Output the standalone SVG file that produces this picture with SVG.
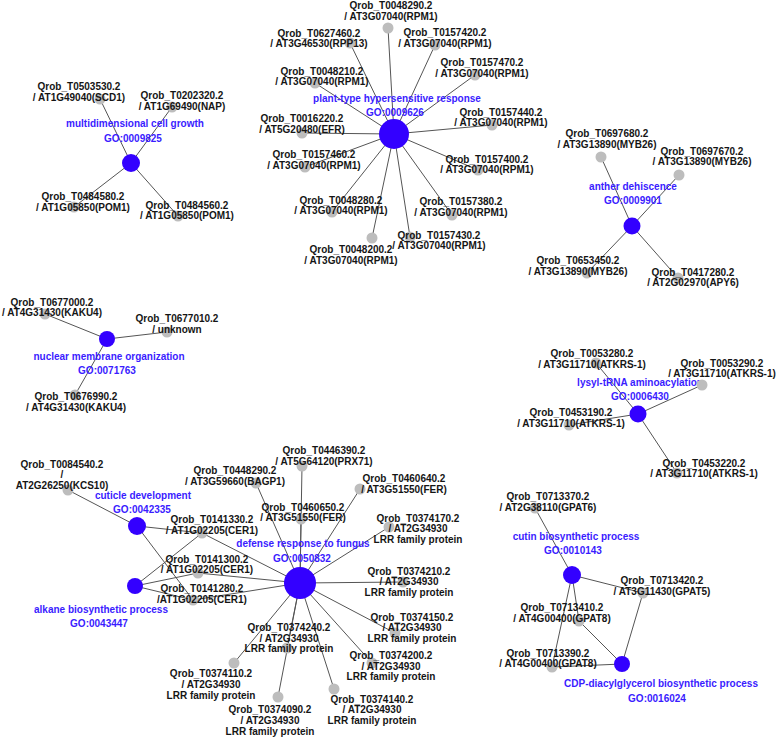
<svg xmlns="http://www.w3.org/2000/svg" width="780" height="738" viewBox="0 0 780 738">
<style>
.e{stroke:#555;stroke-width:1;fill:none}
.go{fill:#3300ff}
.g{fill:#bdbdbd}
.gl{font-family:"Liberation Sans",Arial,sans-serif;font-size:10px;font-weight:bold;fill:#3a1cff;text-anchor:middle}
.t{font-family:"Liberation Sans",Arial,sans-serif;font-size:10px;font-weight:bold;fill:#151515;text-anchor:middle}
</style>
<rect width="780" height="738" fill="#fff"/>
<g id="edges">
<path class="e" d="M131,163L100,99M131,163L172,107M131,163L74,207M131,163L178,216"/>
<path class="e" d="M394,134L388,28M394,134L350,43M394,134L435,45M394,134L315,83M394,134L475,75M394,134L302,133M394,134L492,125M394,134L305,167M394,134L478,170M394,134L332,212M394,134L452,215M394,134L372,238M394,134L410,237"/>
<path class="e" d="M632,226L601,157M632,226L679,175M632,226L587,273M632,226L678,278"/>
<path class="e" d="M107,339L45,314M107,339L167,332M107,339L75,395"/>
<path class="e" d="M638,414L596,363M638,414L702,385M638,414L569,425M638,414L677,473"/>
<path class="e" d="M137,526L68,490M137,526L202,533M137,526L193,600M135,586L202,533M135,586L198,573M135,586L193,600"/>
<path class="e" d="M300,583L202,533M300,583L198,573M300,583L193,600M300,583L302,466M300,583L256,483M300,583L360,489M300,583L301,519M300,583L389,527M300,583L403,582M300,583L395,633M300,583L372,663M300,583L334,689M300,583L278,697M300,583L287,648M300,583L234,663"/>
<path class="e" d="M572,575L535,508M572,575L643,593M572,575L579,621M572,575L552,667M622,664L643,593M622,664L579,621M622,664L552,667"/>
</g>
<g id="go-0009825"><circle class="go" cx="131" cy="163" r="9"/><text class="gl" x="135" y="127">multidimensional cell growth</text><text class="gl" x="133" y="142">GO:0009825</text></g>
<g id="go-0009626"><circle class="go" cx="394" cy="134" r="15"/><text class="gl" x="397" y="102">plant-type hypersensitive response</text><text class="gl" x="395" y="116">GO:0009626</text></g>
<g id="go-0009901"><circle class="go" cx="632" cy="226" r="8.5"/><text class="gl" x="633" y="190">anther dehiscence</text><text class="gl" x="633" y="204">GO:0009901</text></g>
<g id="go-0071763"><circle class="go" cx="107" cy="339" r="8"/><text class="gl" x="109" y="360">nuclear membrane organization</text><text class="gl" x="107" y="374">GO:0071763</text></g>
<g id="go-0006430"><circle class="go" cx="638" cy="414" r="8.5"/><text class="gl" x="640" y="386">lysyl-tRNA aminoacylation</text><text class="gl" x="640" y="400">GO:0006430</text></g>
<g id="go-0042335"><circle class="go" cx="137" cy="526" r="9"/><text class="gl" x="143" y="499">cuticle development</text><text class="gl" x="142" y="513">GO:0042335</text></g>
<g id="go-0043447"><circle class="go" cx="135" cy="586" r="8"/><text class="gl" x="101" y="613">alkane biosynthetic process</text><text class="gl" x="99" y="627">GO:0043447</text></g>
<g id="go-0050832"><circle class="go" cx="300" cy="583" r="16"/><text class="gl" x="303" y="547">defense response to fungus</text><text class="gl" x="302" y="562">GO:0050832</text></g>
<g id="go-0010143"><circle class="go" cx="572" cy="575" r="9"/><text class="gl" x="576" y="540">cutin biosynthetic process</text><text class="gl" x="573" y="554">GO:0010143</text></g>
<g id="go-0016024"><circle class="go" cx="622" cy="664" r="8"/><text class="gl" x="661" y="687">CDP-diacylglycerol biosynthetic process</text><text class="gl" x="657" y="702">GO:0016024</text></g>

<g id="T0503530"><circle class="g" cx="100" cy="99" r="5.5"/><text class="t"><tspan x="79" y="90">Qrob_T0503530.2</tspan><tspan x="79" y="101">/ AT1G49040(SCD1)</tspan></text></g>
<g id="T0202320"><circle class="g" cx="172" cy="107" r="5.5"/><text class="t"><tspan x="182" y="99">Qrob_T0202320.2</tspan><tspan x="182" y="110">/ AT1G69490(NAP)</tspan></text></g>
<g id="T0484580"><circle class="g" cx="74" cy="207" r="5.5"/><text class="t"><tspan x="83" y="200">Qrob_T0484580.2</tspan><tspan x="83" y="211">/ AT1G05850(POM1)</tspan></text></g>
<g id="T0484560"><circle class="g" cx="178" cy="216" r="5.5"/><text class="t"><tspan x="187" y="209">Qrob_T0484560.2</tspan><tspan x="187" y="219">/ AT1G05850(POM1)</tspan></text></g>

<g id="T0048290"><circle class="g" cx="388" cy="28" r="5.5"/><text class="t"><tspan x="391" y="9">Qrob_T0048290.2</tspan><tspan x="391" y="20">/ AT3G07040(RPM1)</tspan></text></g>
<g id="T0627460"><circle class="g" cx="350" cy="43" r="5.5"/><text class="t"><tspan x="319" y="37">Qrob_T0627460.2</tspan><tspan x="319" y="47">/ AT3G46530(RPP13)</tspan></text></g>
<g id="T0157420"><circle class="g" cx="435" cy="45" r="5.5"/><text class="t"><tspan x="445" y="36">Qrob_T0157420.2</tspan><tspan x="445" y="47">/ AT3G07040(RPM1)</tspan></text></g>
<g id="T0048210"><circle class="g" cx="315" cy="83" r="5.5"/><text class="t"><tspan x="322" y="75">Qrob_T0048210.2</tspan><tspan x="322" y="85">/ AT3G07040(RPM1)</tspan></text></g>
<g id="T0157470"><circle class="g" cx="475" cy="75" r="5.5"/><text class="t"><tspan x="482" y="66">Qrob_T0157470.2</tspan><tspan x="482" y="77">/ AT3G07040(RPM1)</tspan></text></g>
<g id="T0016220"><circle class="g" cx="302" cy="133" r="5.5"/><text class="t"><tspan x="302" y="122">Qrob_T0016220.2</tspan><tspan x="302" y="133">/ AT5G20480(EFR)</tspan></text></g>
<g id="T0157440"><circle class="g" cx="492" cy="125" r="5.5"/><text class="t"><tspan x="501" y="116">Qrob_T0157440.2</tspan><tspan x="501" y="126">/ AT3G07040(RPM1)</tspan></text></g>
<g id="T0157460"><circle class="g" cx="305" cy="167" r="5.5"/><text class="t"><tspan x="314" y="158">Qrob_T0157460.2</tspan><tspan x="314" y="169">/ AT3G07040(RPM1)</tspan></text></g>
<g id="T0157400"><circle class="g" cx="478" cy="170" r="5.5"/><text class="t"><tspan x="487" y="163">Qrob_T0157400.2</tspan><tspan x="487" y="173">/ AT3G07040(RPM1)</tspan></text></g>
<g id="T0048280"><circle class="g" cx="332" cy="212" r="5.5"/><text class="t"><tspan x="341" y="204">Qrob_T0048280.2</tspan><tspan x="341" y="214">/ AT3G07040(RPM1)</tspan></text></g>
<g id="T0157380"><circle class="g" cx="452" cy="215" r="5.5"/><text class="t"><tspan x="461" y="205">Qrob_T0157380.2</tspan><tspan x="461" y="216">/ AT3G07040(RPM1)</tspan></text></g>
<g id="T0048200"><circle class="g" cx="372" cy="238" r="5.5"/><text class="t"><tspan x="351" y="253">Qrob_T0048200.2</tspan><tspan x="351" y="264">/ AT3G07040(RPM1)</tspan></text></g>
<g id="T0157430"><circle class="g" cx="410" cy="237" r="5.5"/><text class="t"><tspan x="439" y="239">Qrob_T0157430.2</tspan><tspan x="439" y="249">/ AT3G07040(RPM1)</tspan></text></g>

<g id="T0697680"><circle class="g" cx="601" cy="157" r="5.5"/><text class="t"><tspan x="607" y="137">Qrob_T0697680.2</tspan><tspan x="607" y="148">/ AT3G13890(MYB26)</tspan></text></g>
<g id="T0697670"><circle class="g" cx="679" cy="175" r="5.5"/><text class="t"><tspan x="702" y="155">Qrob_T0697670.2</tspan><tspan x="702" y="165">/ AT3G13890(MYB26)</tspan></text></g>
<g id="T0653450"><circle class="g" cx="587" cy="273" r="5.5"/><text class="t"><tspan x="578" y="264">Qrob_T0653450.2</tspan><tspan x="578" y="275">/ AT3G13890(MYB26)</tspan></text></g>
<g id="T0417280"><circle class="g" cx="678" cy="278" r="5.5"/><text class="t"><tspan x="693" y="276">Qrob_T0417280.2</tspan><tspan x="693" y="286">/ AT2G02970(APY6)</tspan></text></g>

<g id="T0677000"><circle class="g" cx="45" cy="314" r="5.5"/><text class="t"><tspan x="52" y="306">Qrob_T0677000.2</tspan><tspan x="52" y="316">/ AT4G31430(KAKU4)</tspan></text></g>
<g id="T0677010"><circle class="g" cx="167" cy="332" r="5.5"/><text class="t"><tspan x="177" y="322">Qrob_T0677010.2</tspan><tspan x="177" y="333">/ unknown</tspan></text></g>
<g id="T0676990"><circle class="g" cx="75" cy="395" r="5.5"/><text class="t"><tspan x="76" y="400">Qrob_T0676990.2</tspan><tspan x="76" y="411">/ AT4G31430(KAKU4)</tspan></text></g>

<g id="T0053280"><circle class="g" cx="596" cy="363" r="5.5"/><text class="t"><tspan x="592" y="357">Qrob_T0053280.2</tspan><tspan x="592" y="368">/ AT3G11710(ATKRS-1)</tspan></text></g>
<g id="T0053290"><circle class="g" cx="702" cy="385" r="5.5"/><text class="t"><tspan x="722" y="367">Qrob_T0053290.2</tspan><tspan x="722" y="377">/ AT3G11710(ATKRS-1)</tspan></text></g>
<g id="T0453190"><circle class="g" cx="569" cy="425" r="5.5"/><text class="t"><tspan x="571" y="416">Qrob_T0453190.2</tspan><tspan x="571" y="427">/ AT3G11710(ATKRS-1)</tspan></text></g>
<g id="T0453220"><circle class="g" cx="677" cy="473" r="5.5"/><text class="t"><tspan x="704" y="467">Qrob_T0453220.2</tspan><tspan x="704" y="477">/ AT3G11710(ATKRS-1)</tspan></text></g>

<g id="T0084540"><circle class="g" cx="68" cy="490" r="5.5"/><text class="t"><tspan x="62" y="468">Qrob_T0084540.2</tspan><tspan x="62" y="478">/</tspan><tspan x="62" y="489">AT2G26250(KCS10)</tspan></text></g>
<g id="T0141330"><circle class="g" cx="202" cy="533" r="5.5"/><text class="t"><tspan x="212" y="523">Qrob_T0141330.2</tspan><tspan x="212" y="534">/ AT1G02205(CER1)</tspan></text></g>
<g id="T0141300"><circle class="g" cx="198" cy="573" r="5.5"/><text class="t"><tspan x="207" y="563">Qrob_T0141300.2</tspan><tspan x="207" y="573">/ AT1G02205(CER1)</tspan></text></g>
<g id="T0141280"><circle class="g" cx="193" cy="600" r="5.5"/><text class="t"><tspan x="202" y="592">Qrob_T0141280.2</tspan><tspan x="202" y="603">/AT1G02205(CER1)</tspan></text></g>
<g id="T0446390"><circle class="g" cx="302" cy="466" r="5.5"/><text class="t"><tspan x="324" y="454">Qrob_T0446390.2</tspan><tspan x="324" y="465">/ AT5G64120(PRX71)</tspan></text></g>
<g id="T0448290"><circle class="g" cx="256" cy="483" r="5.5"/><text class="t"><tspan x="235" y="474">Qrob_T0448290.2</tspan><tspan x="235" y="485">/ AT3G59660(BAGP1)</tspan></text></g>
<g id="T0460640"><circle class="g" cx="360" cy="489" r="5.5"/><text class="t"><tspan x="404" y="482">Qrob_T0460640.2</tspan><tspan x="404" y="493">/ AT3G51550(FER)</tspan></text></g>
<g id="T0460650"><circle class="g" cx="301" cy="519" r="5.5"/><text class="t"><tspan x="303" y="511">Qrob_T0460650.2</tspan><tspan x="303" y="521">/ AT3G51550(FER)</tspan></text></g>
<g id="T0374170"><circle class="g" cx="389" cy="527" r="5.5"/><text class="t"><tspan x="418" y="522">Qrob_T0374170.2</tspan><tspan x="418" y="532">/ AT2G34930</tspan><tspan x="418" y="543">LRR family protein</tspan></text></g>
<g id="T0374210"><circle class="g" cx="403" cy="582" r="5.5"/><text class="t"><tspan x="409" y="575">Qrob_T0374210.2</tspan><tspan x="409" y="585">/ AT2G34930</tspan><tspan x="409" y="596">LRR family protein</tspan></text></g>
<g id="T0374150"><circle class="g" cx="395" cy="633" r="5.5"/><text class="t"><tspan x="412" y="621">Qrob_T0374150.2</tspan><tspan x="412" y="631">/ AT2G34930</tspan><tspan x="412" y="642">LRR family protein</tspan></text></g>
<g id="T0374200"><circle class="g" cx="372" cy="663" r="5.5"/><text class="t"><tspan x="391" y="659">Qrob_T0374200.2</tspan><tspan x="391" y="670">/ AT2G34930</tspan><tspan x="391" y="680">LRR family protein</tspan></text></g>
<g id="T0374140"><circle class="g" cx="334" cy="689" r="5.5"/><text class="t"><tspan x="372" y="703">Qrob_T0374140.2</tspan><tspan x="372" y="713">/ AT2G34930</tspan><tspan x="372" y="724">LRR family protein</tspan></text></g>
<g id="T0374090"><circle class="g" cx="278" cy="697" r="5.5"/><text class="t"><tspan x="270" y="713">Qrob_T0374090.2</tspan><tspan x="270" y="724">/ AT2G34930</tspan><tspan x="270" y="735">LRR family protein</tspan></text></g>
<g id="T0374240"><circle class="g" cx="287" cy="648" r="5.5"/><text class="t"><tspan x="289" y="631">Qrob_T0374240.2</tspan><tspan x="289" y="642">/ AT2G34930</tspan><tspan x="289" y="652">LRR family protein</tspan></text></g>
<g id="T0374110"><circle class="g" cx="234" cy="663" r="5.5"/><text class="t"><tspan x="211" y="677">Qrob_T0374110.2</tspan><tspan x="211" y="688">/ AT2G34930</tspan><tspan x="211" y="699">LRR family protein</tspan></text></g>

<g id="T0713370"><circle class="g" cx="535" cy="508" r="5.5"/><text class="t"><tspan x="548" y="500">Qrob_T0713370.2</tspan><tspan x="548" y="511">/ AT2G38110(GPAT6)</tspan></text></g>
<g id="T0713420"><circle class="g" cx="643" cy="593" r="5.5"/><text class="t"><tspan x="662" y="584">Qrob_T0713420.2</tspan><tspan x="662" y="595">/ AT3G11430(GPAT5)</tspan></text></g>
<g id="T0713410"><circle class="g" cx="579" cy="621" r="5.5"/><text class="t"><tspan x="562" y="611">Qrob_T0713410.2</tspan><tspan x="562" y="622">/ AT4G00400(GPAT8)</tspan></text></g>
<g id="T0713390"><circle class="g" cx="552" cy="667" r="5.5"/><text class="t"><tspan x="548" y="657">Qrob_T0713390.2</tspan><tspan x="548" y="667">/ AT4G00400(GPAT8)</tspan></text></g>
</svg>
